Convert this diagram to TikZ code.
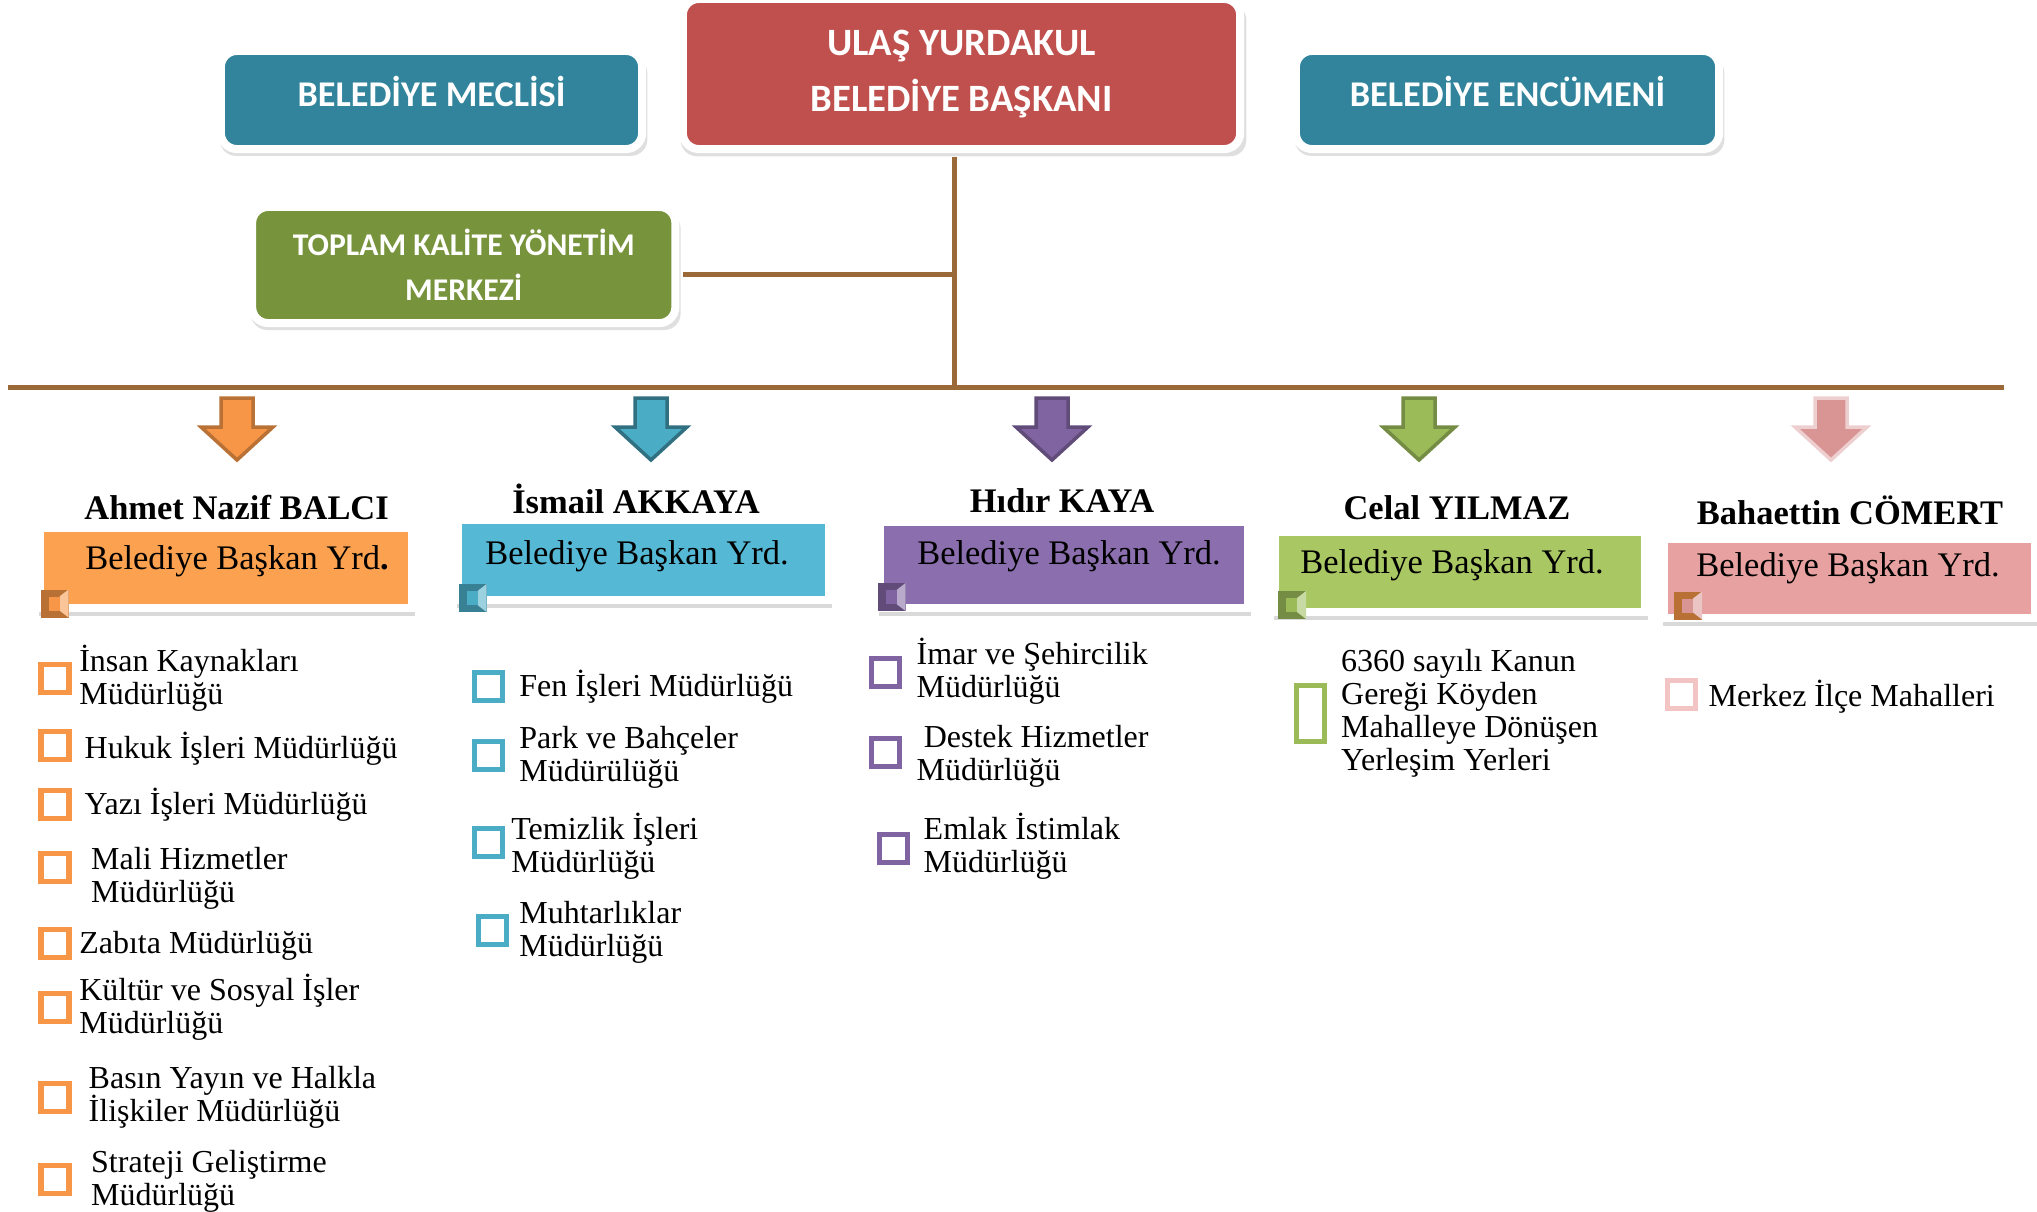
\documentclass[tikz,border=0pt]{standalone}
\usepackage{fontspec}
\setmainfont{Liberation Serif}
\newfontfamily\calibri{Carlito}
\usetikzlibrary{shadows}

\definecolor{tealbox}{HTML}{31849B}
\definecolor{redbox}{HTML}{C0504D}
\definecolor{olivebox}{HTML}{77933C}
\definecolor{linebrown}{HTML}{9B6837}
\definecolor{orng}{HTML}{F79646}
\definecolor{orngbox}{HTML}{FCA14F}
\definecolor{blu}{HTML}{4BACC6}
\definecolor{blubox}{HTML}{55B8D5}
\definecolor{purp}{HTML}{8064A2}
\definecolor{purpbox}{HTML}{8B6EAE}
\definecolor{grn}{HTML}{9BBB59}
\definecolor{grnbox}{HTML}{A9C763}
\definecolor{pnk}{HTML}{D99594}
\definecolor{pnkbox}{HTML}{E6A1A0}
\definecolor{pnksq}{HTML}{F2C4C4}

\newcommand\deptfont{\fontsize{9.1}{9.3}\selectfont\lineskiplimit -5pt\relax}

\tikzset{
  topbox/.style={fill=#1, draw=white, line width=.8mm, rounded corners=1.6mm,
    drop shadow={shadow xshift=.2mm, shadow yshift=-.6mm, shadow scale=1.015, opacity=.25},
    text=white, align=center, inner sep=0pt,
    font=\calibri\bfseries\fontsize{10.3}{15}\selectfont},
  yrdbox/.style={fill=#1, draw=white, line width=.8mm, inner sep=0pt,
    drop shadow={shadow xshift=.1mm, shadow yshift=-.7mm, shadow scale=1.01, opacity=.3}},
  person/.style={anchor=base, inner sep=0pt, font=\fontsize{9.8}{11}\selectfont\bfseries},
  role/.style={anchor=base, inner sep=0pt, font=\fontsize{9.8}{11}\selectfont},
  dept/.style={anchor=base west, inner sep=0pt, align=left, font=\deptfont},
  sq/.style={draw=#1, line width=.5mm},
  link/.style={draw=linebrown, line width=.5mm}
}

\begin{document}
\begin{tikzpicture}[x=0.01cm,y=-0.01cm]
\useasboundingbox (0,0) rectangle (2037,1211);

% top row
\node[topbox=tealbox, minimum width=4.21cm, minimum height=.98cm, text depth=5pt]
  (meclis) at (431.5,100) {BELEDİYE MECLİSİ};
\node[topbox=redbox, minimum width=5.57cm, minimum height=1.5cm,
  font=\calibri\bfseries\fontsize{11}{15.7}\selectfont]
  (mayor) at (961.5,74) {ULAŞ YURDAKUL\\BELEDİYE BAŞKANI};
\node[topbox=tealbox, minimum width=4.23cm, minimum height=.98cm, text depth=5pt]
  (encumen) at (1507.5,100) {BELEDİYE ENCÜMENİ};
\node[topbox=olivebox, minimum width=4.23cm, minimum height=1.16cm,
  font=\calibri\bfseries\fontsize{9}{12.8}\selectfont]
  (tkym) at (463.75,265) {TOPLAM KALİTE YÖNETİM\\MERKEZİ};

\coordinate (busL) at (8,387);
\coordinate (busR) at (2004,387);
\coordinate (stem) at ([xshift=-.75mm]mayor.south);
\coordinate (side) at ([yshift=-.95mm]tkym.east);
\draw[link] (busL) -- (busR);
\draw[link, shorten <=.4mm] (stem) -- (stem |- busL);
\draw[link, shorten <=.4mm] (side) -- (side -| stem);

% arrows
\foreach \x/\c/\o in {237/orng/orng!75!black, 651/blu/blu!65!black, 1052/purp/purp!75!black,
    1419/grn/grn!75!black, 1831/pnk/pnk!45!white}
  \filldraw[fill=\c, draw=\o, line width=.35mm] (\x-16,398) -- (\x+16,398) -- (\x+16,427)
    -- (\x+36,427) -- (\x,460) -- (\x-36,427) -- (\x-16,427) -- cycle;

% deputies
\node[yrdbox=orngbox, minimum width=3.72cm, minimum height=.80cm] (yrd1) at (226,568) {};
\node[yrdbox=blubox, minimum width=3.71cm, minimum height=.80cm] (yrd2) at (643.5,560) {};
\node[yrdbox=purpbox, minimum width=3.68cm, minimum height=.86cm] (yrd3) at (1064,565) {};
\node[yrdbox=grnbox, minimum width=3.70cm, minimum height=.80cm] (yrd4) at (1460,572) {};
\node[yrdbox=pnkbox, minimum width=3.71cm, minimum height=.79cm] (yrd5) at (1849.5,578.5) {};

\node[person] (p1) at (236.6,519) {Ahmet Nazif BALCI};
\node[person] (p2) at (636,513) {İsmail AKKAYA};
\node[person] (p3) at (1062,512) {Hıdır KAYA};
\node[person] (p4) at (1457,519) {Celal YILMAZ};
\node[person] (p5) at (1850,524) {Bahaettin CÖMERT};

\node[role] (r1) at (237,569) {Belediye Başkan Yrd\textbf{.}};
\node[role] (r2) at (637,564) {Belediye Başkan Yrd.};
\node[role] (r3) at (1069,564) {Belediye Başkan Yrd.};
\node[role] (r4) at (1452,573) {Belediye Başkan Yrd.};
\node[role] (r5) at (1848,576) {Belediye Başkan Yrd.};

% bevel corners
\foreach \x/\y/\c/\o in {54.5/603.5/orng/orng, 472.5/598/blu/blu, 891.5/597/purp/purp,
    1292/605/grn/grn, 1688/605.5/pnk/orng}{
  \fill[\o!75!black] (\x-14,\y-14) rectangle (\x+14,\y+14);
  \fill[\c!55!white] (\x+14,\y-14) -- (\x+5,\y-7) -- (\x+5,\y+7) -- (\x+14,\y+14) -- cycle;
  \fill[\c] (\x-6,\y-7) rectangle (\x+5,\y+7);
}

% unit lists (base = last line)
\foreach \y in {678.5,745,804.5,867.5,943.5,1007,1097,1179.5}
  \draw[sq=orng] (55,\y) +(-14,-14) rectangle +(14,14);
\foreach \x/\y/\t [count=\i] in {78.6/704/{İnsan Kaynakları\\Müdürlüğü},
    84/758/{Hukuk İşleri Müdürlüğü}, 84/814/{Yazı İşleri Müdürlüğü},
    90.5/902/{Mali Hizmetler\\Müdürlüğü}, 78.6/953/{Zabıta Müdürlüğü},
    78.6/1033/{Kültür ve Sosyal İşler\\Müdürlüğü},
    88/1121/{Basın Yayın ve Halkla\\İlişkiler Müdürlüğü},
    90.5/1205/{Strateji Geliştirme\\Müdürlüğü}}
  \node[dept] (or\i) at (\x,\y) {\t};

\foreach \x/\y in {488/686,488/755,488/842.5,492/930}
  \draw[sq=blu] (\x,\y) +(-14,-14) rectangle +(14,14);
\foreach \x/\y/\t [count=\i] in {518.7/696/{Fen İşleri Müdürlüğü},
    518.7/781/{Park ve Bahçeler\\Müdürülüğü}, 510.6/872/{Temizlik İşleri\\Müdürlüğü},
    518.7/956/{Muhtarlıklar\\Müdürlüğü}}
  \node[dept] (bl\i) at (\x,\y) {\t};

\foreach \x/\y in {885/672,885/752,893/848}
  \draw[sq=purp] (\x,\y) +(-14,-14) rectangle +(14,14);
\foreach \x/\y/\t [count=\i] in {916/697/{İmar ve Şehircilik\\Müdürlüğü},
    916/780/{\kern2pt Destek Hizmetler\\Müdürlüğü}, 923/872/{Emlak İstimlak\\Müdürlüğü}}
  \node[dept] (pu\i) at (\x,\y) {\t};

\draw[sq=grn] (1310.5,713.5) +(-14,-28) rectangle +(14,28);
\node[dept] (gr1) at (1340.5,770) {6360 sayılı Kanun\\Gereği Köyden\\Mahalleye Dönüşen\\Yerleşim Yerleri};

\draw[sq=pnksq] (1681,694.5) +(-14,-14) rectangle +(14,14);
\node[dept] (pk1) at (1708,706) {Merkez İlçe Mahalleri};
\end{tikzpicture}
\end{document}
